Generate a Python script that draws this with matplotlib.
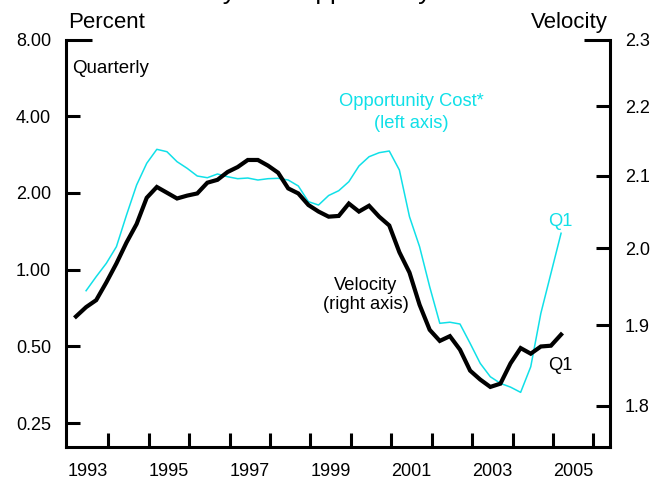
#!/usr/bin/env python3
"""M2 velocity vs. opportunity cost, quarterly, two log axes."""

import matplotlib
matplotlib.use("Agg")

import matplotlib.pyplot as plt
import numpy as np
import pandas as pd

plt.rcParams["font.family"] = ["Liberation Sans", "DejaVu Sans"]

CYAN = "#10E0E8"

# quarterly periods, 1993Q1 .. 2005Q1
quarters = pd.period_range("1993Q1", "2005Q1", freq="Q")

# velocity (right axis), one value per quarter
velocity = [
    1.911, 1.923, 1.932, 1.955, 1.980, 2.008, 2.033, 2.069, 2.084, 2.076,
    2.068, 2.072, 2.075, 2.090, 2.094, 2.105, 2.112, 2.122, 2.122, 2.114,
    2.104, 2.082, 2.075, 2.059, 2.050, 2.043, 2.044, 2.061, 2.050, 2.058,
    2.043, 2.031, 1.995, 1.968, 1.926, 1.894, 1.880, 1.886, 1.869, 1.843,
    1.832, 1.823, 1.827, 1.852, 1.871, 1.864, 1.873, 1.874, 1.888,
]

# opportunity cost in percent (left axis), starts 1993Q2
opp_cost = [
    np.nan, 0.827, 0.939, 1.059, 1.231, 1.639, 2.150, 2.616, 2.968, 2.905,
    2.654, 2.500, 2.332, 2.296, 2.375, 2.317, 2.276, 2.290, 2.249, 2.276,
    2.284, 2.249, 2.131, 1.849, 1.794, 1.955, 2.042, 2.215, 2.553, 2.776,
    2.879, 2.923, 2.462, 1.615, 1.231, 0.857, 0.616, 0.622, 0.612, 0.514,
    0.429, 0.380, 0.358, 0.346, 0.330, 0.416, 0.674, 0.968, 1.390,
]

left_ticks = [0.25, 0.5, 1.0, 2.0, 4.0]
left_labels = ["0.25", "0.50", "1.00", "2.00", "4.00"]
right_ticks = [1.8, 1.9, 2.0, 2.1, 2.2]
right_labels = ["1.8", "1.9", "2.0", "2.1", "2.2"]
year_labels = [str(y) for y in range(1993, 2006, 2)]

# decimal-year position of each quarter
t = np.array([q.year + (q.quarter - 1) * 0.25 + 0.2 for q in quarters])

fig = plt.figure(figsize=(6.6, 4.79), dpi=100)
ax = fig.add_axes([0.100, 0.0674, 0.8242, 0.8499])
ax2 = ax.twinx()

LW = 2.2
TICK = dict(direction="in", width=LW, length=10, labelsize=13, pad=10.8)

# left axis: opportunity cost
ax.set_yscale("log")
ax.set_ylim(0.2019, 8.0)
ax.set_yticks([8.0], ["8.00"])
ax.set_yticks(left_ticks, left_labels, minor=True)
ax.tick_params(axis="y", which="major", **{**TICK, "length": 18.5})
ax.tick_params(axis="y", which="minor", **TICK)

# right axis: velocity
ax2.set_yscale("log")
ax2.set_ylim(1.7515, 2.3)
ax2.set_yticks([2.3], ["2.3"])
ax2.set_yticks(right_ticks, right_labels, minor=True)
ax2.tick_params(axis="y", which="major", **{**TICK, "length": 18.5})
ax2.tick_params(axis="y", which="minor", **TICK)

# x axis: ticks on year boundaries, labels mid-year
ax.set_xlim(1992.953, 2006.41)
ax.set_xticks(range(1994, 2007), [""] * 13)
ax.set_xticks([y + 0.5 for y in range(1993, 2006, 2)], year_labels, minor=True)
ax.tick_params(axis="x", which="major", direction="in", width=LW, length=10)
ax.tick_params(axis="x", which="minor", length=0, labelsize=13, pad=11.5)

for a in (ax, ax2):
    a.spines["top"].set_visible(False)
    for s in a.spines.values():
        s.set_linewidth(LW)
ax.spines["right"].set_visible(False)
ax2.spines["left"].set_visible(False)
ax2.spines["bottom"].set_visible(False)

ax.plot(t, opp_cost, color=CYAN, lw=1.1, zorder=2)
ax2.plot(t, velocity, color="black", lw=3.0, solid_joinstyle="miter", zorder=3)

# labels and annotations (title sits mostly above the frame, as in the source)
fig.text(0.45, 1 + 0.5 / 479, "M2 Velocity and Opportunity Cost",
         ha="center", va="baseline", fontsize=19)
fig.text(68 / 660, 1 - 28 / 479, "Percent", ha="left", va="baseline", fontsize=16)
fig.text(608 / 660, 1 - 28 / 479, "Velocity", ha="right", va="baseline", fontsize=16)
fig.text(72 / 660, 1 - 73 / 479, "Quarterly", ha="left", va="baseline", fontsize=13.5)

fig.text(411 / 660, 1 - 106 / 479, "Opportunity Cost*", ha="center",
         va="baseline", fontsize=13.2, color=CYAN)
fig.text(411 / 660, 1 - 128 / 479, "(left axis)", ha="center",
         va="baseline", fontsize=13.2, color=CYAN)
fig.text(366 / 660, 1 - 290 / 479, "Velocity", ha="center",
         va="baseline", fontsize=13.2)
fig.text(366 / 660, 1 - 309 / 479, "(right axis)", ha="center",
         va="baseline", fontsize=13.2)
fig.text(560 / 660, 1 - 226 / 479, "Q1", ha="center", va="baseline",
         fontsize=13.2, color=CYAN)
fig.text(560 / 660, 1 - 370 / 479, "Q1", ha="center", va="baseline", fontsize=13.2)

fig.savefig("out.png", dpi=100)
